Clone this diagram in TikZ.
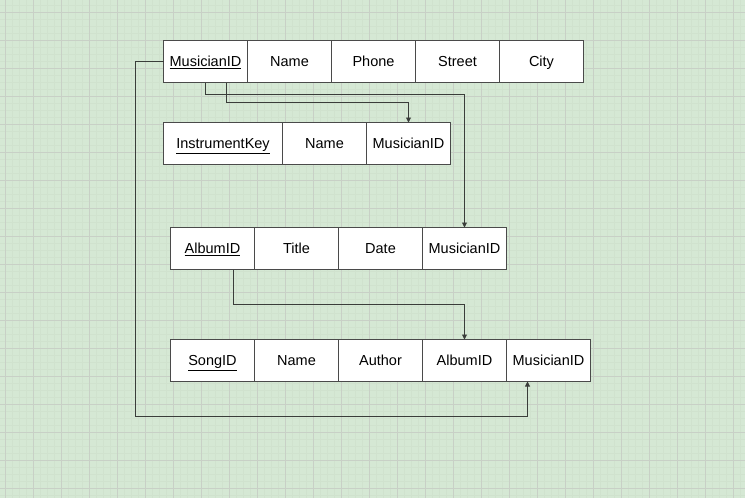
\documentclass[tikz,border=0pt]{standalone}
\usepackage{fontspec}
\setmainfont{Liberation Sans}
\usetikzlibrary{arrows.meta}
\definecolor{bg}{HTML}{D5E8D4}
\definecolor{gridmaj}{HTML}{C8D0C6}
\definecolor{gridmin}{HTML}{D0E2CE}
\definecolor{cellborder}{HTML}{4A4A4A}
\definecolor{edgecol}{HTML}{3A3D3A}
\tikzset{
  cell/.style={draw=cellborder, fill=white, line width=1pt, minimum width=84pt,
    minimum height=42pt, inner sep=0pt, outer sep=0pt, anchor=north west,
    text=black, font=\fontsize{14.5}{17}\selectfont, text height=10.4pt, text depth=0pt},
  widecell/.style={cell, minimum width=119pt},
  conn/.style={draw=edgecol, line width=0.9pt, -{Triangle[length=5pt,width=5pt]}}
}
\begin{document}
\begin{tikzpicture}[x=1pt,y=-1pt]
\fill[bg] (0,0) rectangle (745,498);
\begin{scope}
\clip (0,0) rectangle (745,498);
\foreach \k in {-1,...,106} \draw[gridmin, line width=0.5pt] (5+7*\k,0) -- (5+7*\k,498);
\foreach \k in {-2,...,69} \draw[gridmin, line width=0.5pt] (0,12.7+7*\k) -- (745,12.7+7*\k);
\foreach \k in {0,...,26} \draw[gridmaj, line width=0.8pt] (5+28*\k,0) -- (5+28*\k,498);
\foreach \k in {0,...,17} \draw[gridmaj, line width=0.8pt] (0,12.7+28*\k) -- (745,12.7+28*\k);
\end{scope}
% Musician
\node[cell] (m1) at (163.5,40.5) {\underline{MusicianID}};
\node[cell] (m2) at (247.5,40.5) {Name};
\node[cell] (m3) at (331.5,40.5) {Phone};
\node[cell] (m4) at (415.5,40.5) {Street};
\node[cell] (m5) at (499.5,40.5) {City};
% Instrument
\node[widecell] (i1) at (163.5,122.5) {\underline{InstrumentKey}};
\node[cell] (i2) at (282.5,122.5) {Name};
\node[cell] (i3) at (366.5,122.5) {MusicianID};
% Album
\node[cell] (a1) at (170.5,227.5) {\underline{AlbumID}};
\node[cell] (a2) at (254.5,227.5) {Title};
\node[cell] (a3) at (338.5,227.5) {Date};
\node[cell] (a4) at (422.5,227.5) {MusicianID};
% Song
\node[cell] (s1) at (170.5,339.5) {\underline{SongID}};
\node[cell] (s2) at (254.5,339.5) {Name};
\node[cell] (s3) at (338.5,339.5) {Author};
\node[cell] (s4) at (422.5,339.5) {AlbumID};
\node[cell] (s5) at (506.5,339.5) {MusicianID};
% connectors
\draw[conn] (m1.south) -- ++(0,12) -| (a4.north);
\draw[conn] ([xshift=21pt]m1.south) -- ++(0,20) -| (i3.north);
\draw[conn] ([xshift=21pt]a1.south) -- ++(0,35) -| (s4.north);
\coordinate (c1) at (135.5,416.5);
\draw[conn] (m1.west) -| (c1) -| ([xshift=-21pt]s5.south);
\end{tikzpicture}
\end{document}
